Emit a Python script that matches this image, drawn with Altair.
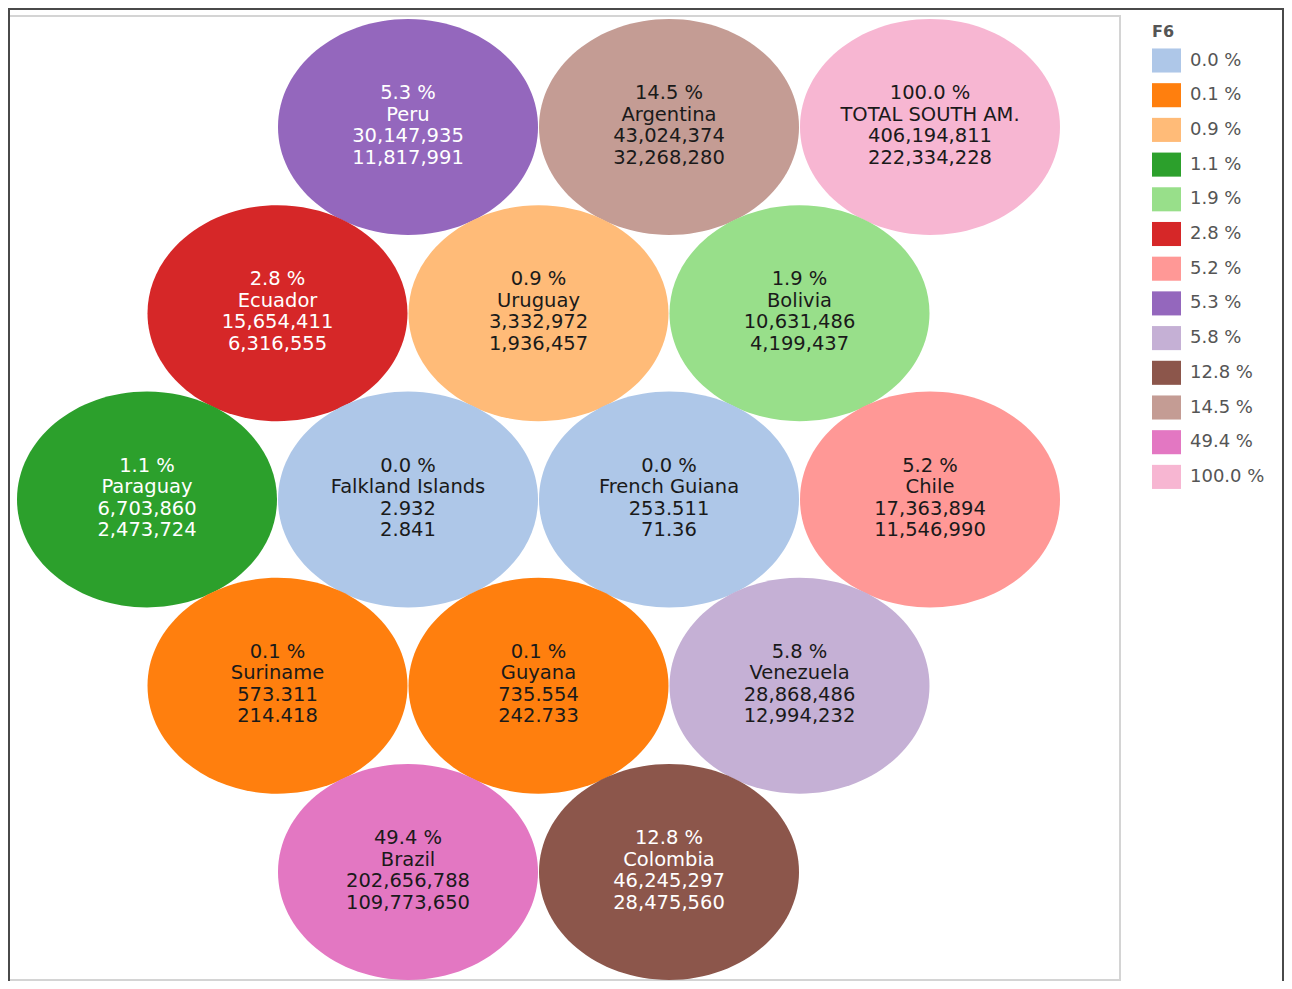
import altair as alt
import pandas as pd

# ---- data ----
names = ["Peru", "Argentina", "TOTAL SOUTH AM.",
         "Ecuador", "Uruguay", "Bolivia",
         "Paraguay", "Falkland Islands", "French Guiana", "Chile",
         "Suriname", "Guyana", "Venezuela",
         "Brazil", "Colombia"]
pcts = ["5.3 %", "14.5 %", "100.0 %",
        "2.8 %", "0.9 %", "1.9 %",
        "1.1 %", "0.0 %", "0.0 %", "5.2 %",
        "0.1 %", "0.1 %", "5.8 %",
        "49.4 %", "12.8 %"]
values_a = ["30,147,935", "43,024,374", "406,194,811",
            "15,654,411", "3,332,972", "10,631,486",
            "6,703,860", "2.932", "253.511", "17,363,894",
            "573.311", "735.554", "28,868,486",
            "202,656,788", "46,245,297"]
values_b = ["11,817,991", "32,268,280", "222,334,228",
            "6,316,555", "1,936,457", "4,199,437",
            "2,473,724", "2.841", "71.36", "11,546,990",
            "214.418", "242.733", "12,994,232",
            "109,773,650", "28,475,560"]
# hex-grid cell (half-step column, row)
cols = [2, 4, 6,
        1, 3, 5,
        0, 2, 4, 6,
        1, 3, 5,
        2, 4]
rows = [0, 0, 0,
        1, 1, 1,
        2, 2, 2, 2,
        3, 3, 3,
        4, 4]

legend_order = ["0.0 %", "0.1 %", "0.9 %", "1.1 %", "1.9 %", "2.8 %", "5.2 %",
                "5.3 %", "5.8 %", "12.8 %", "14.5 %", "49.4 %", "100.0 %"]
palette = ["#aec7e8", "#ff7f0e", "#ffbb78", "#2ca02c", "#98df8a", "#d62728", "#ff9896",
           "#9467bd", "#c5b0d5", "#8c564b", "#c49c94", "#e377c2", "#f7b6d2"]
dark_pcts = ["5.3 %", "2.8 %", "1.1 %", "12.8 %"]

df = pd.DataFrame({
    "name": names, "pct": pcts, "a": values_a, "b": values_b,
    "col": cols, "row": rows,
})
df["label"] = df["pct"] + "\n" + df["name"] + "\n" + df["a"] + "\n" + df["b"]

FONT = "DejaVu Sans"
ELLIPSE = ("M -1 0 C -1 -0.4585 -0.5523 -0.83 0 -0.83 "
           "C 0.5523 -0.83 1 -0.4585 1 0 "
           "C 1 0.4585 0.5523 0.83 0 0.83 "
           "C -0.5523 0.83 -1 0.4585 -1 0 Z")
RECT = "M -1 -0.83 L 1 -0.83 L 1 0.83 L -1 0.83 Z"

xs = alt.X("col:Q", scale=alt.Scale(domain=[0, 6], range=[139, 922]), axis=None)
ys = alt.Y("row:Q", scale=alt.Scale(domain=[0, 4], range=[111, 856]), axis=None)

base = alt.Chart(df)

ellipses = base.mark_point(
    filled=True, shape=ELLIPSE, size=67600, opacity=1, strokeWidth=0
).encode(
    x=xs, y=ys,
    color=alt.Color(
        "pct:N",
        scale=alt.Scale(domain=legend_order, range=palette),
        legend=alt.Legend(
            title="F6", orient="none", legendX=1144, legendY=8,
            symbolType=RECT, symbolSize=841, symbolStrokeWidth=0, symbolOpacity=1,
            titleFont=FONT, titleFontSize=16, titleFontWeight="bold", titleColor="#555555",
            titlePadding=6,
            labelFont=FONT, labelFontSize=18, labelColor="#555555", labelOffset=9,
            rowPadding=7.7,
        ),
    ),
)

labels = base.mark_text(
    font=FONT, fontSize=19.5, lineBreak="\n", lineHeight=21.5,
    align="center", baseline="middle", dy=-34
).encode(
    x=xs, y=ys,
    text="label:N",
    color=alt.condition(
        alt.FieldOneOfPredicate(field="pct", oneOf=dark_pcts),
        alt.value("#ffffff"), alt.value("#1a1a1a"),
    ),
)

frame_df = pd.DataFrame({"k": [0]})
frame = alt.Chart(frame_df)
left_rule = frame.mark_rule(color="#4a4a4a", strokeWidth=2).encode(
    x=alt.value(1), y=alt.value(-8), y2=alt.value(980))
top_rule = frame.mark_rule(color="#4a4a4a", strokeWidth=2).encode(
    y=alt.value(-7), x=alt.value(0), x2=alt.value(1280))
right_rule = frame.mark_rule(color="#4a4a4a", strokeWidth=2).encode(
    x=alt.value(1275), y=alt.value(-8), y2=alt.value(980))

chart = alt.layer(ellipses, labels, left_rule, top_rule, right_rule).properties(
    width=1112, height=964,
    autosize=alt.AutoSizeParams(type="none"),
    padding={"left": 0, "top": 8, "right": 164, "bottom": 1},
).configure_view(
    stroke="#d4d4d4", strokeWidth=2
)

chart.save("out.html", embed_options={"renderer": "svg", "actions": False})
